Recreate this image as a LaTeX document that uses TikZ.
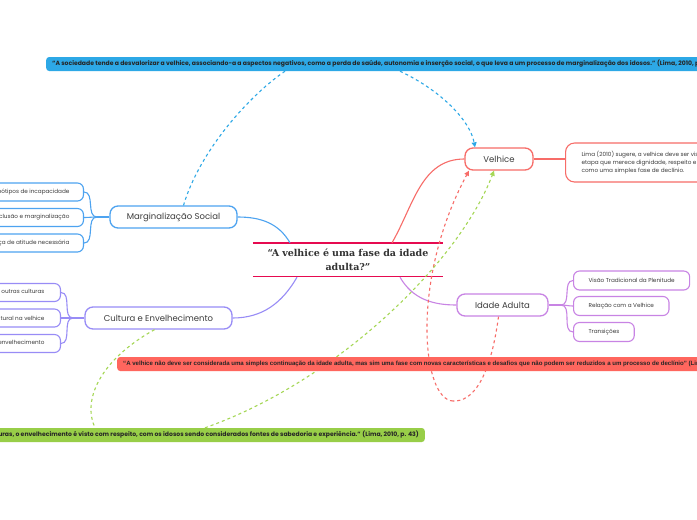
\documentclass[tikz,border=0pt]{standalone}
\usepackage{fontspec}
\setmainfont{Poppins}
\newfontfamily\slabfont{DejaVu Serif}[BoldFont={DejaVu Serif Bold}]
\newfontfamily\arialfont{Liberation Sans}
\usepackage{tikz}
\usetikzlibrary{arrows.meta}
\definecolor{txtgray}{RGB}{60,60,60}
\definecolor{margblue}{RGB}{77,163,240}
\definecolor{bannerblue}{RGB}{45,168,230}
\definecolor{velred}{RGB}{247,108,104}
\definecolor{bannerred}{RGB}{255,102,94}
\definecolor{adultpurple}{RGB}{200,132,228}
\definecolor{cultviolet}{RGB}{152,140,246}
\definecolor{bannergreen}{RGB}{152,206,72}
\definecolor{dashgreen}{RGB}{165,215,85}
\definecolor{titlered}{RGB}{230,10,80}
\tikzstyle{topic}=[draw, line width=1.3pt, rounded corners=8pt, fill=white, text=txtgray, minimum height=22pt, inner xsep=4pt, font=\fontsize{8.5}{10}\selectfont]
\tikzstyle{leaf}=[draw, line width=1.1pt, rounded corners=6pt, fill=white, text=txtgray, minimum height=18pt, inner xsep=14pt, inner ysep=0pt, font=\fontsize{5.7}{6.5}\selectfont]
\tikzstyle{banner}=[rounded corners=3pt, minimum height=14pt, inner xsep=6pt, inner ysep=0pt, text=black!85, font=\bfseries\fontsize{6.1}{7}\selectfont]
\tikzstyle{rel}=[line width=1.1pt, dash pattern=on 3pt off 3pt]
\tikzstyle{branch}=[line width=1.1pt]
\tikzstyle{tip}=[-{Triangle[length=5pt,width=5pt]}]
\tikzstyle{rule}=[draw=titlered, line width=1.4pt]

\begin{document}
\begin{tikzpicture}[x=1pt,y=-1pt]
\clip (0,0) rectangle (697,520);
\fill[white] (0,0) rectangle (697,520);

\node[text=black!80, align=center, text width=190pt, minimum height=34pt, inner sep=0pt,
      font=\slabfont\bfseries\fontsize{9.5}{13.5}\selectfont] (central) at (348,260)
      {“A velhice é uma fase da idade\\adulta?”};
\path[rule] (central.north west) -- (central.north east);
\path[rule] ([yshift=0.5pt]central.south west) -- ([yshift=0.5pt]central.south east);

\node[topic, draw=velred, minimum width=68pt] (velhice) at (499,159) {Velhice};
\node[topic, draw=margblue, minimum width=127pt] (marg) at (173.5,217) {Marginalização Social};
\node[topic, draw=cultviolet, minimum width=147pt] (cultura) at (158.5,318) {Cultura e Envelhecimento};
\node[topic, draw=adultpurple, minimum width=91pt] (adulta) at (502.5,305) {Idade Adulta};

\node[leaf, draw=velred, rounded corners=9pt, anchor=west, minimum height=39pt, align=left,
      inner xsep=16pt, font=\fontsize{5.7}{8}\selectfont] (lima) at (565,162.5)
      {Lima (2010) sugere, a velhice deve ser vista como uma\\etapa que merece dignidade, respeito e valorização, e não\\como uma simples fase de declínio.};

\node[leaf, draw=margblue, anchor=east] (estereo) at (84,192) {Estereótipos de incapacidade};
\node[leaf, draw=margblue, anchor=east] (exclusao) at (84,217.5) {Exclusão e marginalização};
\node[leaf, draw=margblue, anchor=east] (mudanca) at (84,243) {Mudança de atitude necessária};

\node[leaf, draw=cultviolet, anchor=east, inner xsep=16pt] (compara) at (61,292.5) {Comparação com outras culturas};
\node[leaf, draw=cultviolet, anchor=east, inner xsep=16pt] (valor) at (61,318) {Valor cultural na velhice};
\node[leaf, draw=cultviolet, anchor=east, inner xsep=16pt] (respeito) at (61,343.5) {Respeito ao envelhecimento};

\node[leaf, draw=adultpurple, anchor=west, inner xsep=15pt, minimum height=19pt] (plenitude) at (573,280.5) {Visão Tradicional da Plenitude};
\node[leaf, draw=adultpurple, anchor=west, inner xsep=15pt, minimum height=19pt] (relacao) at (573,306) {Relação com a Velhice};
\node[leaf, draw=adultpurple, anchor=west, inner xsep=15pt, minimum height=19pt] (transicoes) at (573,332) {Transições};

\coordinate (mj) at (97,217);
\coordinate (cj) at (73,318);
\coordinate (aj) at (561,305);

\draw[branch, velred] ([xshift=44pt]central.north) to[out=60,in=180] (velhice.west);
\draw[branch, margblue] ([xshift=-58pt]central.north) to[out=120,in=0] (marg.east);
\draw[branch, cultviolet] ([xshift=-51pt]central.south) to[out=240,in=0] (cultura.east);
\draw[branch, adultpurple] ([xshift=52pt]central.south) to[out=-60,in=180] (adulta.west);
\draw[branch, velred] (velhice.east) -- (velhice.east -| lima.west);

\draw[branch, margblue] (marg.west) -- (mj);
\foreach \leafname in {estereo,exclusao,mudanca}
  \draw[branch, margblue] (mj) to[out=180,in=0] (\leafname.east);
\draw[branch, cultviolet] (cultura.west) -- (cj);
\foreach \leafname in {compara,valor,respeito}
  \draw[branch, cultviolet] (cj) to[out=180,in=0] (\leafname.east);
\draw[branch, adultpurple] (adulta.east) -- (aj);
\foreach \leafname in {plenitude,relacao,transicoes}
  \draw[branch, adultpurple] (aj) to[out=0,in=180] (\leafname.west);

\node[banner, fill=bannerblue, anchor=west] (topban) at (46,64)
  {“A sociedade tende a desvalorizar a velhice, associando-a a aspectos negativos, como a perda de saúde, autonomia e inserção social, o que leva a um processo de marginalização dos idosos.” (Lima, 2010, p. 43)};
\node[banner, fill=bannergreen, anchor=east] (greenban) at (425,435)
  {“Em muitas culturas, o envelhecimento é visto com respeito, com os idosos sendo considerados fontes de sabedoria e experiência.” (Lima, 2010, p. 43)};

\draw[rel, bannerblue] ([xshift=10pt]marg.north) .. controls (200,150) and (250,95) .. ([xshift=239pt]topban.south west);
\draw[rel, tip, bannerblue] ([xshift=354pt]topban.south west) .. controls (440,90) and (470,120) .. ([xshift=-24pt]velhice.north);
\draw[rel, velred] ([xshift=-4pt]adulta.south) .. controls (490,380) and (472,402) .. (453,401);
\draw[rel, tip, velred] (453,401) .. controls (422,400) and (410,280) .. ([xshift=-30pt]velhice.south);
\draw[rel, dashgreen] ([xshift=-4pt]cultura.south) .. controls (100,360) and (82,400) .. ([xshift=-330pt]greenban.north east);
\draw[rel, tip, dashgreen] ([xshift=-220pt]greenban.north east) .. controls (340,380) and (460,260) .. ([xshift=-5pt]velhice.south);

\node[banner, fill=bannerred, anchor=west, font=\arialfont\bfseries\fontsize{6.1}{7}\selectfont] (redban) at (117,364)
  {“A velhice não deve ser considerada uma simples continuação da idade adulta, mas sim uma fase com novas características e desafios que não podem ser reduzidos a um processo de declínio” (Lima, 2010, p. 43)};
\end{tikzpicture}
\end{document}
